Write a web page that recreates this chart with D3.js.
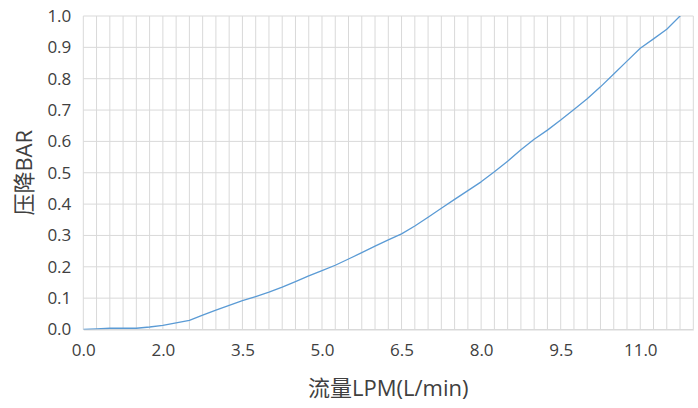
<!DOCTYPE html>
<html>
<head>
<meta charset="utf-8">
<script src="https://cdn.jsdelivr.net/npm/d3@7"></script>
<style>
  html, body { margin: 0; padding: 0; background: #fff; }
  svg text { font-family: "Open Sans", "Noto Sans CJK SC", sans-serif; fill: #404040; }
</style>
</head>
<body>
<svg id="chart" width="698" height="408"></svg>
<script>
// Flow rate categories (LPM) and measured pressure drop (bar)
const flowLPM = [
  0.0, 0.5, 1.0, 1.25, 1.5, 1.75,
  2.0, 2.25, 2.5, 2.75, 3.0, 3.25,
  3.5, 3.75, 4.0, 4.25, 4.5, 4.75,
  5.0, 5.25, 5.5, 5.75, 6.0, 6.25,
  6.5, 6.75, 7.0, 7.25, 7.5, 7.75,
  8.0, 8.25, 8.5, 8.75, 9.0, 9.25,
  9.5, 9.75, 10.0, 10.25, 10.5, 10.75,
  11.0, 11.25, 11.5, 11.75, 12.0
];
const pressureBar = [
  0.000, 0.002, 0.004, 0.004, 0.004, 0.008,
  0.013, 0.021, 0.029, 0.046, 0.062, 0.077,
  0.092, 0.105, 0.119, 0.135, 0.153, 0.171,
  0.188, 0.205, 0.225, 0.245, 0.266, 0.286,
  0.305, 0.330, 0.358, 0.387, 0.415, 0.443,
  0.471, 0.503, 0.537, 0.573, 0.607, 0.636,
  0.668, 0.702, 0.736, 0.774, 0.815, 0.856,
  0.897, 0.927, 0.958, 1.000, 1.040
];
const yTicks = [0, 0.1, 0.2, 0.3, 0.4, 0.5, 0.6, 0.7, 0.8, 0.9, 1.0];
const xLabelEvery = 6;
const xTitle = "流量LPM(L/min)";
const yTitle = "压降BAR";

const svg = d3.select("#chart");
const plot = { left: 83.3, right: 693.3, top: 16, bottom: 329.5 };

const x = d3.scalePoint()
  .domain(flowLPM.map((d, i) => i))
  .range([plot.left, plot.right]);
const y = d3.scaleLinear().domain([0, 1]).range([plot.bottom, plot.top]);

const grid = svg.append("g");
// vertical gridlines, one per category
grid.selectAll("line.v").data(x.domain()).join("line")
  .attr("x1", d => x(d)).attr("x2", d => x(d))
  .attr("y1", plot.top).attr("y2", plot.bottom)
  .attr("stroke", "#d9d9d9").attr("stroke-width", 1);
// horizontal gridlines
grid.selectAll("line.h").data(yTicks).join("line")
  .attr("x1", plot.left).attr("x2", plot.right)
  .attr("y1", d => y(d)).attr("y2", d => y(d))
  .attr("stroke", "#d9d9d9").attr("stroke-width", 1);

// y axis labels
const yAxis = d3.axisLeft(y).tickValues(yTicks).tickFormat(d3.format(".1f")).tickSize(0).tickPadding(12);
const gy = svg.append("g").attr("transform", `translate(${plot.left},0)`).call(yAxis);
gy.select(".domain").remove();
gy.selectAll("text").style("font-size", "17px").attr("fill", "#404040")
  .style("font-family", "'Open Sans', sans-serif");

// x axis labels
const xAxis = d3.axisBottom(x)
  .tickValues(x.domain().filter(i => i % xLabelEvery === 0))
  .tickFormat(i => flowLPM[i].toFixed(1)).tickSize(0).tickPadding(14);
const gx = svg.append("g").attr("transform", `translate(0,${plot.bottom})`).call(xAxis);
gx.select(".domain").attr("stroke", "#d9d9d9");
gx.selectAll("text").style("font-size", "17px").attr("fill", "#404040")
  .style("font-family", "'Open Sans', sans-serif");

// data line, clipped to the plot area
svg.append("clipPath").attr("id", "plotClip").append("rect")
  .attr("x", plot.left).attr("y", plot.top)
  .attr("width", plot.right - plot.left).attr("height", plot.bottom - plot.top);

const line = d3.line().x((d, i) => x(i)).y(d => y(d));
svg.append("path")
  .datum(pressureBar)
  .attr("clip-path", "url(#plotClip)")
  .attr("d", line)
  .attr("fill", "none")
  .attr("stroke", "#5b9bd5")
  .attr("stroke-width", 1.3)
  .attr("stroke-linejoin", "round");

// axis titles
svg.append("text")
  .attr("x", (plot.left + plot.right) / 2).attr("y", 396)
  .attr("text-anchor", "middle")
  .style("font-size", "22px")
  .text(xTitle);

svg.append("text")
  .attr("transform", `translate(32,${(plot.top + plot.bottom) / 2}) rotate(-90)`)
  .attr("text-anchor", "middle")
  .style("font-size", "22px")
  .text(yTitle);
</script>
</body>
</html>
